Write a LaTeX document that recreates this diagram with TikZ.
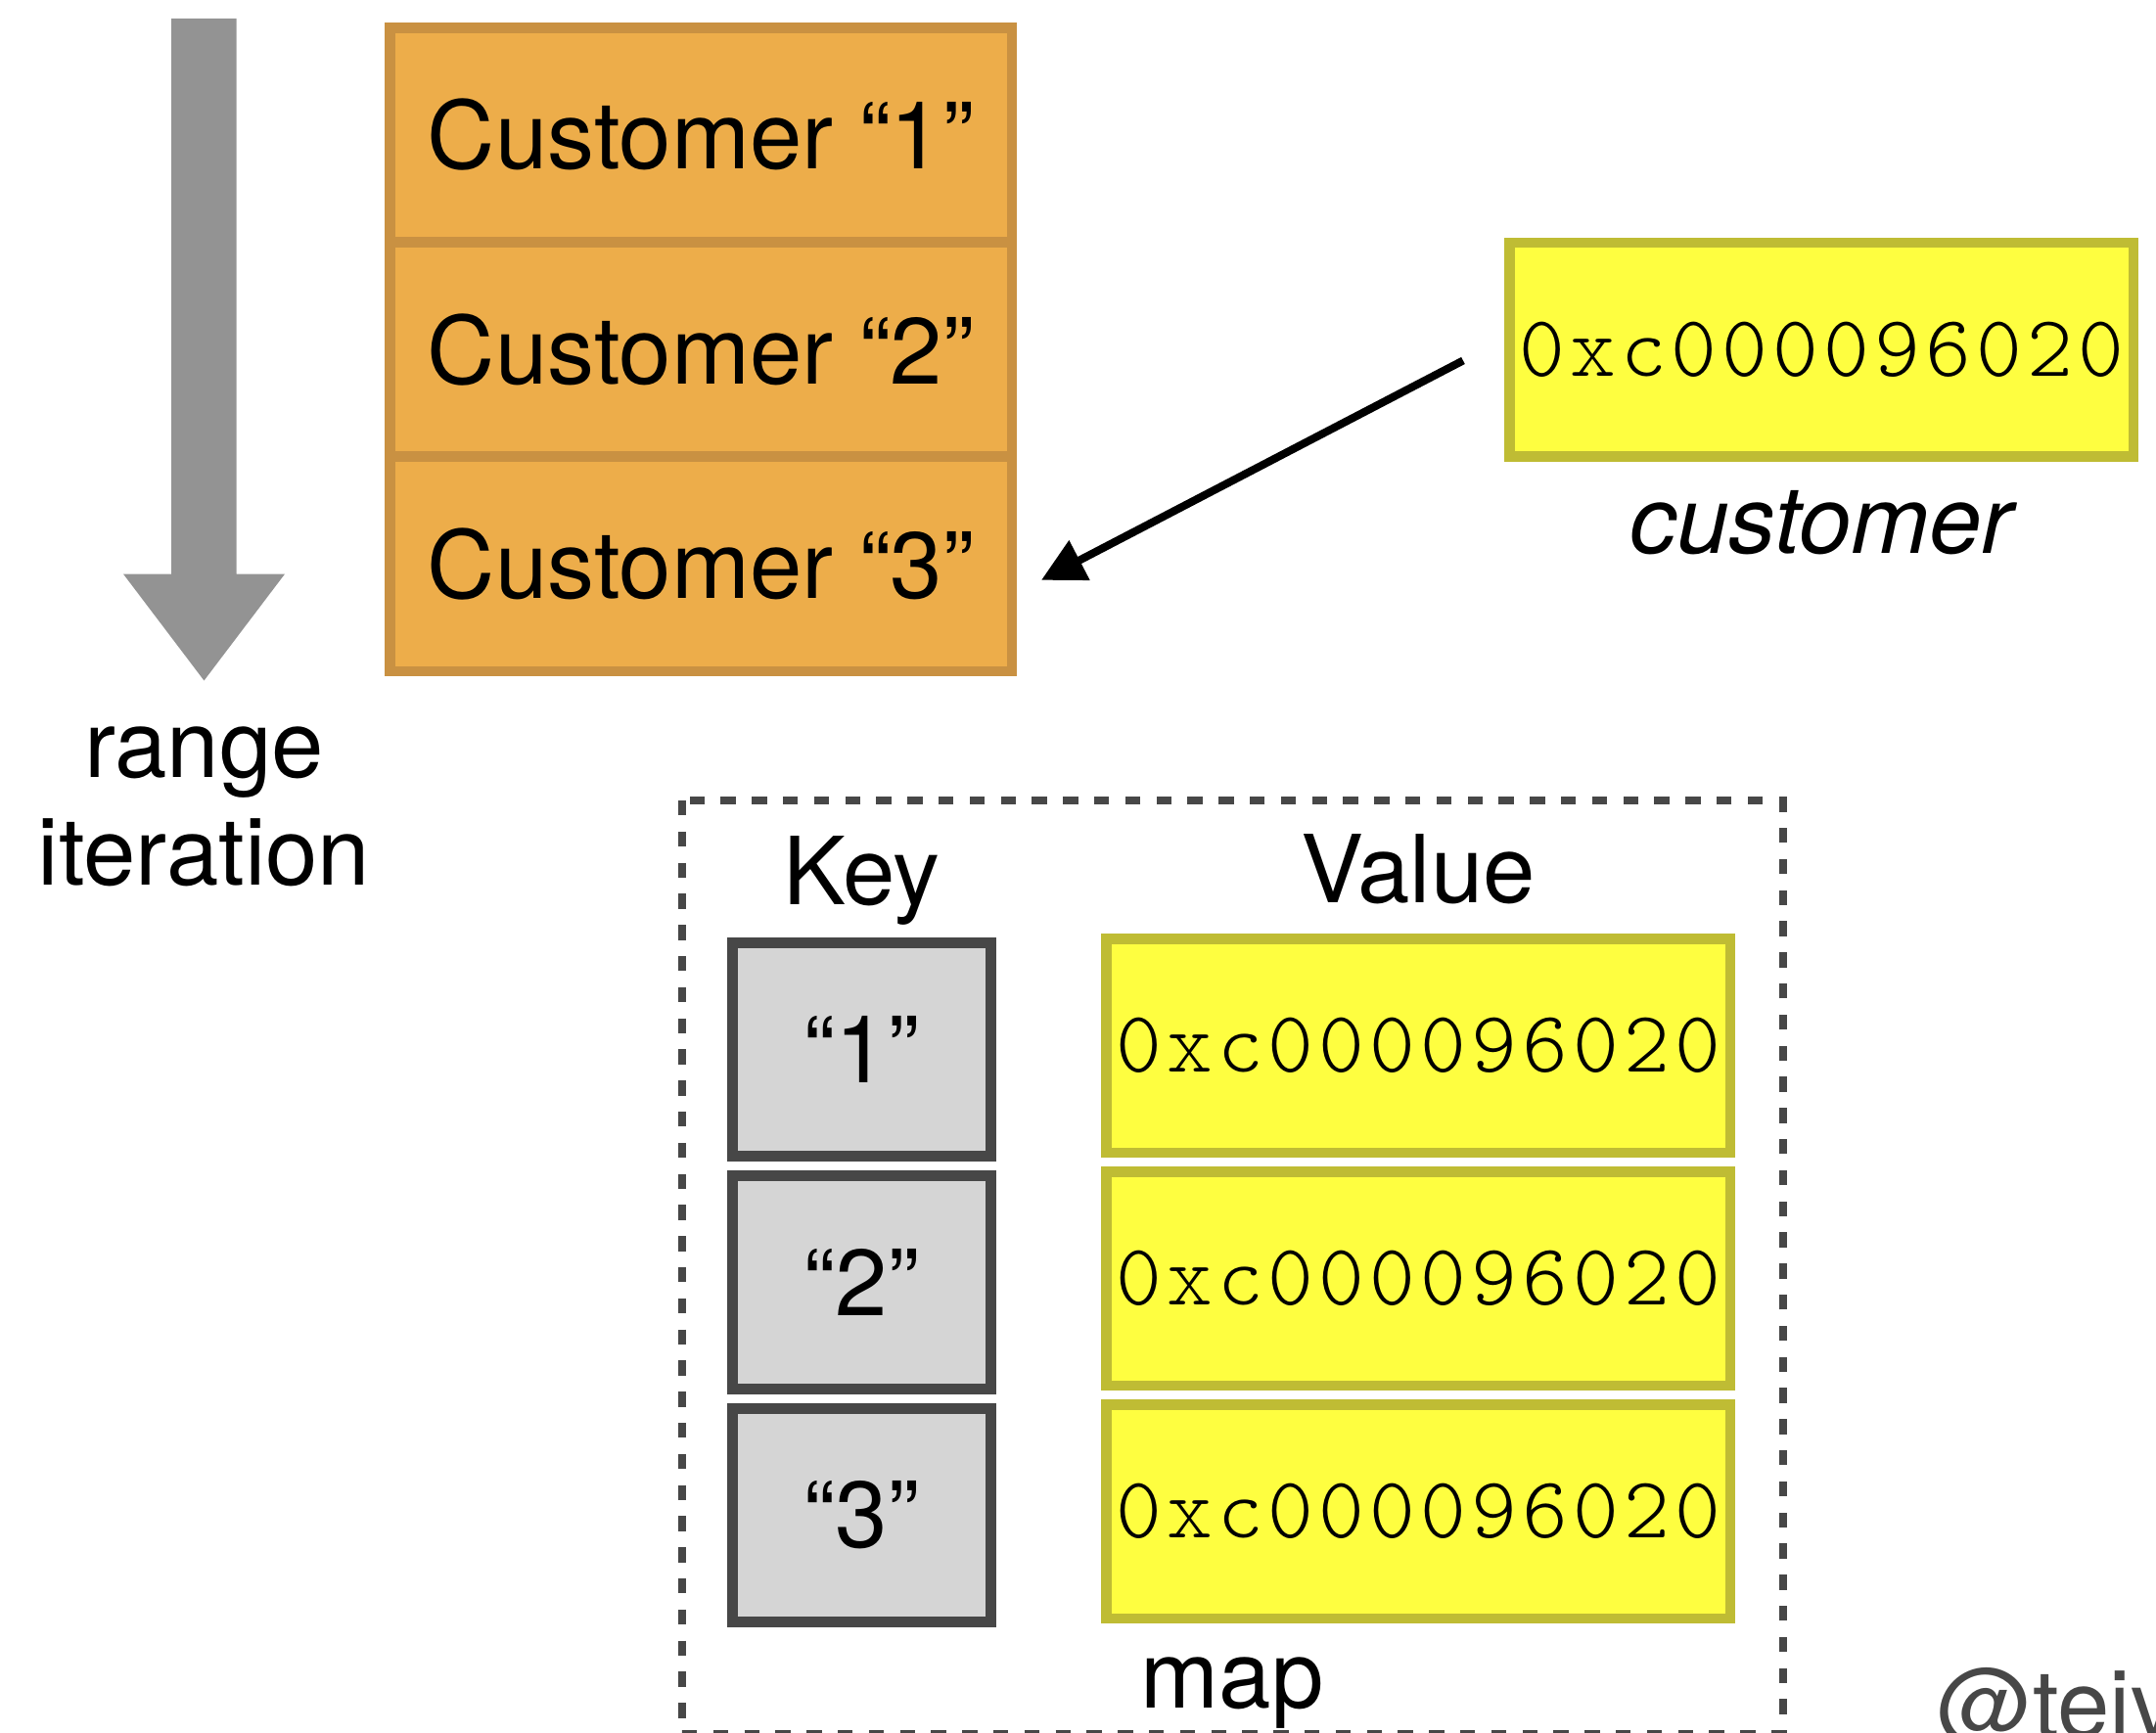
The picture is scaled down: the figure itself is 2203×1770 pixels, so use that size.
\documentclass[tikz,border=0pt]{standalone}
\usepackage{fontspec}
\setmainfont{TeX Gyre Heros}
\newfontfamily\hexfont[LetterSpace=5.8]{lmmonolt10-regular.otf}
\usetikzlibrary{positioning,arrows.meta}

\definecolor{slotfill}{RGB}{237,173,74}
\definecolor{slotdraw}{RGB}{201,145,66}
\definecolor{ptrfill}{RGB}{254,254,64}
\definecolor{ptrdraw}{RGB}{191,188,52}
\definecolor{keyfill}{RGB}{213,213,213}
\definecolor{darkline}{RGB}{71,71,71}
\definecolor{arrowgray}{RGB}{147,147,147}

\tikzset{every picture/.style={line width=0.75pt}}
\tikzset{
  bigtext/.style={font=\fontsize{48}{55}\selectfont, inner sep=0pt},
  slot/.style={draw=slotdraw, fill=slotfill, line width=5.25pt, outer sep=0pt,
    minimum width=317.75pt, minimum height=109.6pt, inner sep=0pt,
    font=\fontsize{48}{55}\selectfont},
  addr/.style={draw=ptrdraw, fill=ptrfill, line width=5.25pt,
    minimum width=318.75pt, minimum height=109.25pt, inner sep=0pt,
    font=\hexfont\fontsize{44.5}{50}\selectfont},
  keybox/.style={draw=darkline, fill=keyfill, line width=5.5pt,
    minimum width=132pt, minimum height=109.2pt, inner sep=0pt,
    font=\fontsize{48}{55}\selectfont},
  pointer/.style={line width=4pt, -{Triangle[length=22pt,width=22pt]}},
  mapframe/.style={draw=darkline, line width=4pt, dash pattern={on 7.7pt off 8.2pt}},
}

\begin{document}
\begin{tikzpicture}[x=0.5pt,y=0.5pt,yscale=-1,xscale=1]
	\useasboundingbox (0,0) rectangle (2203,1770);

	%Shape: Down Arrow
	\fill[arrowgray] (175,19) -- (241.5,19) -- (241.5,586.6) -- (291,586.6) -- (208.5,695.5) -- (126,586.6) -- (175,586.6) -- cycle;
	% Text Node
	\node[bigtext, align=center, anchor=base] (rangelabel) at (208.5,904) {range\\iteration};

	% Slice of customers
	\node[slot] (c1) at (716,137.9) {Customer “1”};
	\node[slot, below=0pt of c1] (c2) {Customer “2”};
	\node[slot, below=0pt of c2] (c3) {Customer “3”};

	% Loop variable
	\node[addr] (cust) at (1861,357.5) {0xc000096020};
	\node[bigtext, font=\fontsize{48}{55}\selectfont\itshape, anchor=base] (custlabel) at (1861,565) {customer};

	\draw[pointer, shorten <=23.7pt, shorten >=17.06pt] ([yshift=-5.45pt]cust.west) -- ([yshift=16.15pt]c3.east);

	%Shape: Dashed map frame
	\draw[mapframe] (697,818) rectangle (1821.5,1772);
	% Text Node
	\node[bigtext, anchor=base] (keyhead) at (880.5,924) {Key};
	% Text Node
	\node[bigtext, anchor=base] (valhead) at (1449,922.6) {Value};

	% Keys
	\node[keybox] (k1) at (880.5,1072.3) {“1”};
	\node[keybox, below=4.3pt of k1] (k2) {“2”};
	\node[keybox, below=4.3pt of k2] (k3) {“3”};

	% Values
	\node[addr] (v1) at (1449,1068.5) {0xc000096020};
	\node[addr, below=4.5pt of v1] (v2) {0xc000096020};
	\node[addr, below=4.5pt of v2] (v3) {0xc000096020};

	% Text Node
	\node[bigtext, anchor=base] (maplabel) at (1259,1745) {map};
	% Text Node
	\node[bigtext, text=darkline, anchor=base west] (handle) at (1979,1775) {@teiv};

\end{tikzpicture}
\end{document}
